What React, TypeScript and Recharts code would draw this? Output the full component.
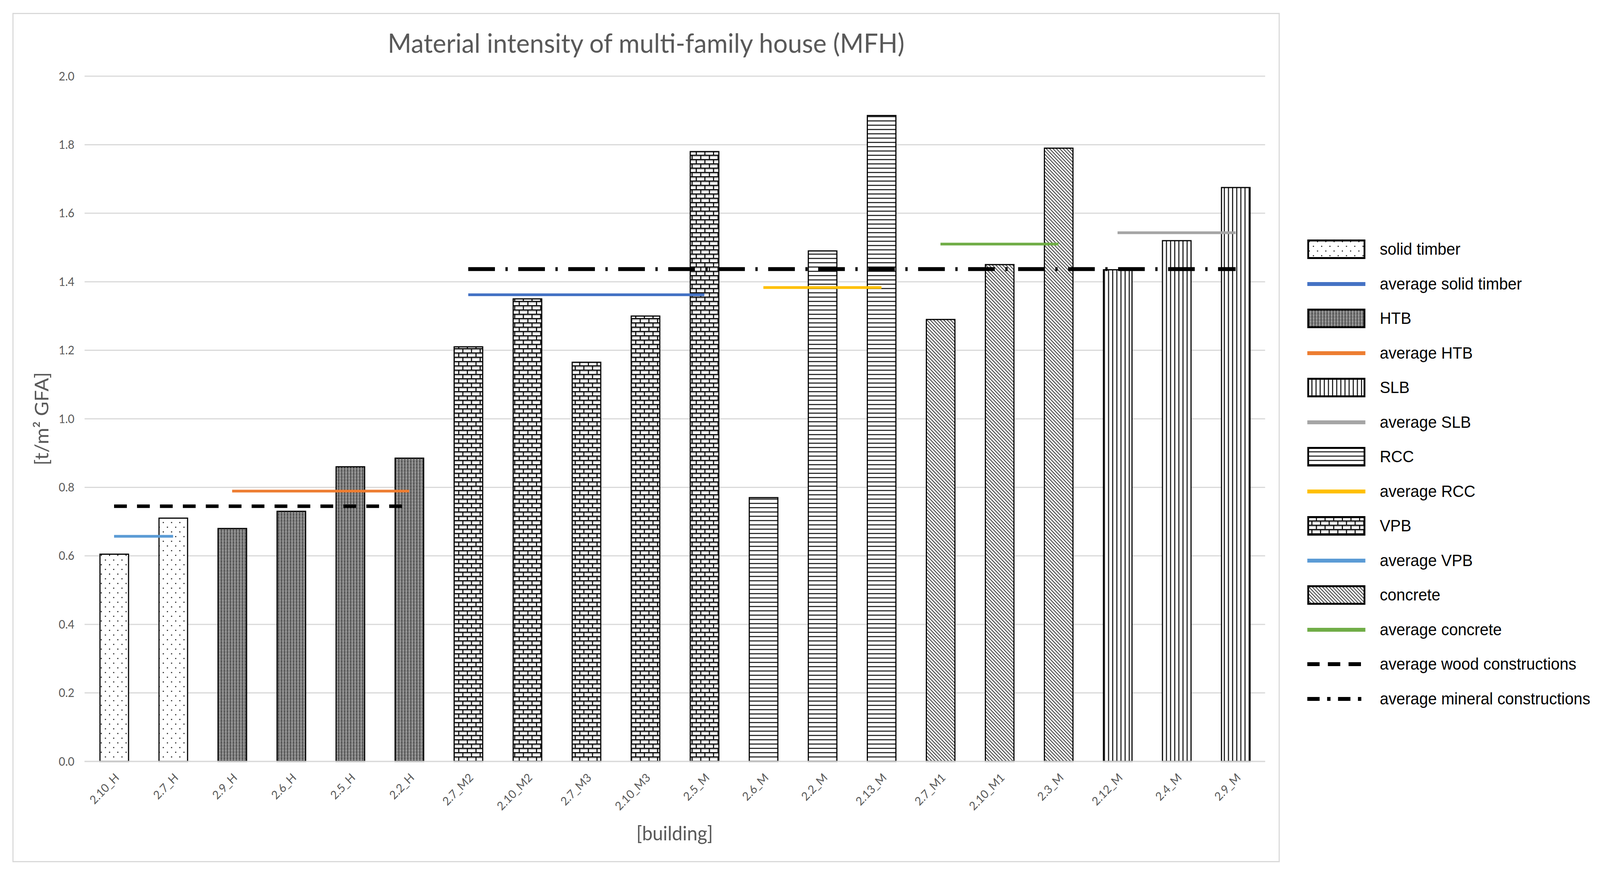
import React from 'react';
import { ComposedChart, Bar, Line, XAxis, YAxis, CartesianGrid, Cell } from 'recharts';

const buildings = [
  '2.10_H', '2.7_H', '2.9_H', '2.6_H', '2.5_H', '2.2_H',
  '2.7_M2', '2.10_M2', '2.7_M3', '2.10_M3', '2.5_M',
  '2.6_M', '2.2_M', '2.13_M',
  '2.7_M1', '2.10_M1', '2.3_M',
  '2.12_M', '2.4_M', '2.9_M',
];
const intensity = [
  0.605, 0.71, 0.68, 0.73, 0.86, 0.885,
  1.21, 1.35, 1.165, 1.3, 1.78,
  0.77, 1.49, 1.885,
  1.29, 1.45, 1.79,
  1.435, 1.52, 1.675,
];
const construction = [
  'solid', 'solid', 'htb', 'htb', 'htb', 'htb',
  'vpb', 'vpb', 'vpb', 'vpb', 'vpb',
  'rcc', 'rcc', 'rcc',
  'concrete', 'concrete', 'concrete',
  'slb', 'slb', 'slb',
];

const _ = null;
const avgSolidTimber = [0.657, 0.657, _, _, _, _, _, _, _, _, _, _, _, _, _, _, _, _, _, _];
const avgHTB = [_, _, 0.789, 0.789, 0.789, 0.789, _, _, _, _, _, _, _, _, _, _, _, _, _, _];
const avgVPB = [_, _, _, _, _, _, 1.362, 1.362, 1.362, 1.362, 1.362, _, _, _, _, _, _, _, _, _];
const avgRCC = [_, _, _, _, _, _, _, _, _, _, _, 1.383, 1.383, 1.383, _, _, _, _, _, _];
const avgConcrete = [_, _, _, _, _, _, _, _, _, _, _, _, _, _, 1.51, 1.51, 1.51, _, _, _];
const avgSLB = [_, _, _, _, _, _, _, _, _, _, _, _, _, _, _, _, _, 1.543, 1.543, 1.543];
const avgWood = [0.745, 0.745, 0.745, 0.745, 0.745, 0.745, _, _, _, _, _, _, _, _, _, _, _, _, _, _];
const avgMineral = [_, _, _, _, _, _, 1.437, 1.437, 1.437, 1.437, 1.437, 1.437, 1.437, 1.437, 1.437, 1.437, 1.437, 1.437, 1.437, 1.437];

const yTicks = [0, 0.2, 0.4, 0.6, 0.8, 1.0, 1.2, 1.4, 1.6, 1.8, 2.0];

const legendLabels = [
  'solid timber', 'average solid timber', 'HTB', 'average HTB', 'SLB', 'average SLB',
  'RCC', 'average RCC', 'VPB', 'average VPB', 'concrete', 'average concrete',
  'average wood constructions', 'average mineral constructions',
];
const legendSwatches: { pattern?: string; color?: string; dash?: string }[] = [
  { pattern: 'solid' }, { color: '#4472C4' }, { pattern: 'htb' }, { color: '#ED7D31' },
  { pattern: 'slb' }, { color: '#A5A5A5' }, { pattern: 'rcc' }, { color: '#FFC000' },
  { pattern: 'vpb' }, { color: '#5B9BD5' }, { pattern: 'concrete' }, { color: '#70AD47' },
  { color: '#000', dash: '33 22' }, { color: '#000', dash: '33 20 9 20' },
];

const rows = buildings.map((b, i) => ({
  building: b,
  value: intensity[i],
  avgSolidTimber: avgSolidTimber[i],
  avgHTB: avgHTB[i],
  avgVPB: avgVPB[i],
  avgRCC: avgRCC[i],
  avgConcrete: avgConcrete[i],
  avgSLB: avgSLB[i],
  avgWood: avgWood[i],
  avgMineral: avgMineral[i],
}));

const W = 4257;
const H = 2232;
const GRAY = '#595959';
const FONT = 'Lato, "Open Sans", sans-serif';

function PatternDefs() {
  return (
    <svg width={0} height={0} style={{ position: 'absolute' }}>
      <defs>
        <pattern id="pat-solid" width="22" height="24" patternUnits="userSpaceOnUse">
          <rect width="22" height="24" fill="#fff" />
          <rect x="4" y="4" width="3" height="3" fill="#333" />
          <rect x="15" y="16" width="3" height="3" fill="#333" />
        </pattern>
        <pattern id="pat-htb" width="8" height="8" patternUnits="userSpaceOnUse">
          <rect width="8" height="8" fill="#777" />
          <rect x="0" y="0" width="2" height="2" fill="#e0e0e0" />
          <rect x="4" y="4" width="2" height="2" fill="#1a1a1a" />
          <rect x="4" y="0" width="2" height="2" fill="#444" />
          <rect x="0" y="4" width="2" height="2" fill="#bbb" />
        </pattern>
        <pattern id="pat-vpb" width="23" height="22" patternUnits="userSpaceOnUse">
          <rect width="23" height="22" fill="#fff" />
          <rect x="0" y="3" width="23" height="3" fill="#ccc" />
          <rect x="0" y="14" width="23" height="3" fill="#ccc" />
          <rect x="0" y="0" width="23" height="3" fill="#111" />
          <rect x="0" y="11" width="23" height="3" fill="#111" />
          <rect x="0" y="0" width="3" height="11" fill="#111" />
          <rect x="11" y="11" width="3" height="11" fill="#111" />
        </pattern>
        <pattern id="pat-rcc" width="11" height="11" patternUnits="userSpaceOnUse">
          <rect width="11" height="11" fill="#fff" />
          <rect x="0" y="0" width="11" height="3" fill="#333" />
        </pattern>
        <pattern id="pat-concrete" width="9" height="9" patternUnits="userSpaceOnUse">
          <rect width="9" height="9" fill="#fff" />
          <path d="M-1,-1 L10,10 M-1,8 L1,10 M8,-1 L10,1" stroke="#333" strokeWidth="2" />
        </pattern>
        <pattern id="pat-slb" width="11" height="11" patternUnits="userSpaceOnUse">
          <rect width="11" height="11" fill="#fff" />
          <rect x="0" y="0" width="3" height="11" fill="#222" />
        </pattern>
      </defs>
    </svg>
  );
}

function BuildingTick({ x, y, payload }: any) {
  return (
    <g transform={`translate(${x + 8},${y + 36})`}>
      <text x={0} y={0} dy="0.35em" textAnchor="end" transform="rotate(-45)" fontSize={30} fill={GRAY} fontFamily={FONT}>
        {payload.value}
      </text>
    </g>
  );
}

function ChartLegend() {
  return (
    <div style={{ position: 'absolute', left: 0, top: 0 }}>
      {legendLabels.map((label, i) => {
        const sw = legendSwatches[i];
        const cy = 638 + i * 88.5;
        return (
          <div key={label} style={{ position: 'absolute', left: 3478, top: cy - 25, height: 50, display: 'flex', alignItems: 'center', whiteSpace: 'nowrap' }}>
            <svg width={155} height={50}>
              {sw.pattern ? (
                <rect x={2.5} y={2.5} width={150} height={45} fill={`url(#pat-${sw.pattern})`} stroke="#000" strokeWidth={5} />
              ) : (
                <line x1={0} x2={155} y1={25} y2={25} stroke={sw.color} strokeWidth={10} strokeDasharray={sw.dash} />
              )}
            </svg>
            <span style={{ marginLeft: 38, fontFamily: '"Liberation Sans", Arial, sans-serif', fontSize: 42, color: '#000' }}>{label}</span>
          </div>
        );
      })}
    </div>
  );
}

export default function App() {
  // fit the 4257x2232 drawing into whatever viewport the page really gets
  const vw = typeof document !== 'undefined' ? document.documentElement.clientWidth || W : W;
  const vh = typeof document !== 'undefined' ? document.documentElement.clientHeight || H : H;
  const sx = vw / W;
  const sy = vh / H;

  return (
    <div style={{ position: 'fixed', left: 0, top: 0, width: W, height: H, background: '#fff', overflow: 'hidden', transformOrigin: '0 0', transform: `scale(${sx}, ${sy})` }}>
      <PatternDefs />
      <div style={{ position: 'absolute', left: 33, top: 33, width: 3372, height: 2174, border: '3px solid #D9D9D9', boxSizing: 'border-box' }} />
      <div style={{ position: 'absolute', left: 0, top: 0 }}>
        <ComposedChart width={W} height={H} data={rows} margin={{ top: 195, right: 891, bottom: 63, left: 0 }}>
          <CartesianGrid vertical={false} stroke="#D9D9D9" strokeWidth={3} />
          <XAxis
            dataKey="building"
            height={220}
            interval={0}
            tickLine={false}
            tickSize={0}
            tickMargin={0}
            axisLine={{ stroke: '#D9D9D9', strokeWidth: 3 }}
            tick={<BuildingTick />}
          />
          <YAxis
            width={225}
            domain={[0, 2]}
            ticks={yTicks}
            tickFormatter={(v: number) => v.toFixed(1)}
            axisLine={false}
            tickLine={false}
            tickSize={0}
            tickMargin={27}
            tick={{ fill: GRAY, fontSize: 30, fontFamily: FONT }}
          />
          <Bar dataKey="value" barSize={76} stroke="#000" strokeWidth={3} isAnimationActive={false}>
            {rows.map((r, i) => (
              <Cell key={r.building} fill={`url(#pat-${construction[i]})`} />
            ))}
          </Bar>
          <Line dataKey="avgSolidTimber" type="linear" stroke="#5B9BD5" strokeWidth={7} dot={false} activeDot={false} isAnimationActive={false} />
          <Line dataKey="avgHTB" type="linear" stroke="#ED7D31" strokeWidth={7} dot={false} activeDot={false} isAnimationActive={false} />
          <Line dataKey="avgVPB" type="linear" stroke="#4472C4" strokeWidth={7} dot={false} activeDot={false} isAnimationActive={false} />
          <Line dataKey="avgRCC" type="linear" stroke="#FFC000" strokeWidth={7} dot={false} activeDot={false} isAnimationActive={false} />
          <Line dataKey="avgConcrete" type="linear" stroke="#70AD47" strokeWidth={7} dot={false} activeDot={false} isAnimationActive={false} />
          <Line dataKey="avgSLB" type="linear" stroke="#A5A5A5" strokeWidth={7} dot={false} activeDot={false} isAnimationActive={false} />
          <Line dataKey="avgWood" type="linear" stroke="#000" strokeWidth={9} strokeDasharray="34 27" dot={false} activeDot={false} isAnimationActive={false} />
          <Line dataKey="avgMineral" type="linear" stroke="#000" strokeWidth={10} strokeDasharray="71 28 6 28" dot={false} activeDot={false} isAnimationActive={false} />
        </ComposedChart>
      </div>
      <svg width={W} height={H} style={{ position: 'absolute', left: 0, top: 0, pointerEvents: 'none' }}>
        <text x={1719} y={109} textAnchor="middle" dominantBaseline="central" fontSize={68} fill={GRAY} fontFamily={FONT}>
          Material intensity of multi-family house (MFH)
        </text>
        <text transform="translate(109,1072) rotate(-90)" textAnchor="middle" dominantBaseline="central" fontSize={51} fill={GRAY} fontFamily={FONT}>
          [t/m² GFA]
        </text>
        <text x={1795} y={2132} textAnchor="middle" dominantBaseline="central" fontSize={50} fill={GRAY} fontFamily={FONT}>
          [building]
        </text>
      </svg>
      <ChartLegend />
    </div>
  );
}
